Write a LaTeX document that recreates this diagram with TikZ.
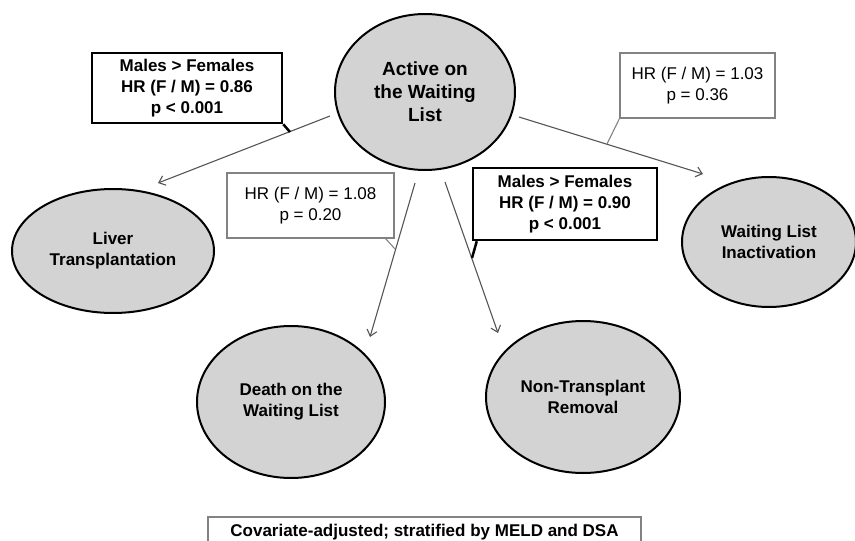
\documentclass[tikz,border=0pt]{standalone}
\usepackage{fontspec}
\setmainfont{Liberation Sans}
\usetikzlibrary{shapes.geometric,arrows.meta}
\definecolor{ellfill}{RGB}{211,211,211}
\definecolor{lineg}{RGB}{85,85,85}
\definecolor{boxg}{RGB}{130,130,130}
\tikzset{
  state/.style={ellipse, draw=black, line width=2pt, fill=ellfill, inner sep=0pt, align=center,
    font=\fontsize{17}{21}\selectfont\bfseries},
  boldbox/.style={rectangle, draw=black, line width=2.5pt, fill=white, inner sep=0pt, align=center,
    font=\fontsize{17}{21}\selectfont\bfseries},
  thinbox/.style={rectangle, draw=boxg, line width=1.1pt, fill=white, inner sep=0pt, align=center,
    font=\fontsize{17}{21}\selectfont},
  flow/.style={draw=lineg, line width=1.1pt, -{Straight Barb[length=6pt,width=10pt,line width=1.1pt]}},
  boldtail/.style={draw=black, line width=2.5pt},
  thintail/.style={draw=boxg, line width=1.1pt},
}
\begin{document}
\begin{tikzpicture}[x=1pt,y=-1pt]
\useasboundingbox (0,0) rectangle (855,541);

% states
\node[state, minimum width=180pt, minimum height=156pt, font=\fontsize{19}{23}\selectfont\bfseries] (act) at (425,92) {Active on\\the Waiting\\List};
\node[state, minimum width=202pt, minimum height=124pt] (liv) at (113,251) {Liver\\Transplantation};
\node[state, minimum width=174pt, minimum height=130pt] (ina) at (769,242) {Waiting List\\Inactivation};
\node[state, minimum width=188pt, minimum height=152pt] (dea) at (291,402) {Death on the\\Waiting List};
\node[state, minimum width=194pt, minimum height=152pt] (non) at (583,397) {Non-Transplant\\Removal};

% arrow end points
\coordinate (s1) at (330,116); \coordinate (e1) at (158,183);
\coordinate (s2) at (519,117); \coordinate (e2) at (703,174);
\coordinate (s3) at (415,183); \coordinate (e3) at (370,337);
\coordinate (s4) at (445,182); \coordinate (e4) at (498,333);

\draw[flow] (s1) -- (e1);
\draw[flow] (s2) -- (e2);
\draw[flow] (s3) -- (e3);
\draw[flow] (s4) -- (e4);

% callout boxes
\node[boldbox, minimum width=190pt, minimum height=70pt] (b1) at (187,88) {Males > Females\\HR (F / M) = 0.86\\p < 0.001};
\node[thinbox, minimum width=155pt, minimum height=65pt] (b2) at (697.5,85.5) {HR (F / M) = 1.03\\p = 0.36};
\node[thinbox, minimum width=167pt, minimum height=65pt] (b3) at (310.5,205.5) {HR (F / M) = 1.08\\p = 0.20};
\node[boldbox, minimum width=184pt, minimum height=72pt] (b4) at (565,204) {Males > Females\\HR (F / M) = 0.90\\p < 0.001};

% tails
\coordinate (t1) at (290,132);
\coordinate (t2) at (607,144);
\coordinate (t3) at (395,249);
\coordinate (t4) at (472,258);
\draw[boldtail] (b1.south east) -- (t1);
\draw[thintail] (b2.south west) -- (t2);
\draw[thintail] ([xshift=-9pt]b3.south east) -- (t3);
\draw[boldtail] ([xshift=5pt]b4.south west) -- (t4);

% footer box
\node[rectangle, draw=boxg, line width=1.1pt, minimum width=433pt, minimum height=30pt, inner sep=0pt,
  font=\fontsize{17}{21}\selectfont\bfseries] (foot) at (424.5,532) {Covariate-adjusted; stratified by MELD and DSA};
\end{tikzpicture}
\end{document}
